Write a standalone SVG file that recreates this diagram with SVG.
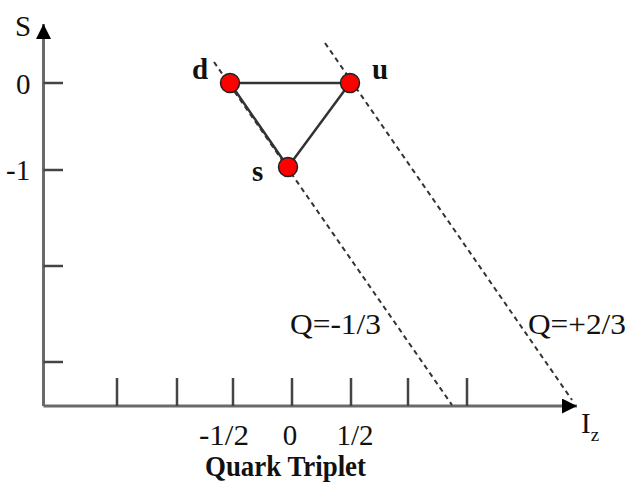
<svg xmlns="http://www.w3.org/2000/svg" width="641" height="484" viewBox="0 0 641 484">
<style>
.axis{stroke:#6a6a6a;stroke-width:3;fill:none}
.tick{stroke:#444;stroke-width:2.5;fill:none}
.edge{stroke:#333;stroke-width:2.5;fill:none}
.dash{stroke:#333;stroke-width:2;stroke-dasharray:5 4;fill:none}
.dot{fill:#ff0000;stroke:#222;stroke-width:1.5}
.t{font-family:"Liberation Serif","Times New Roman",serif;font-size:29px;fill:#111}
.b{font-weight:bold}
</style>
<defs>
<marker id="arr" markerWidth="16" markerHeight="16" refX="15" refY="7.5" orient="auto" markerUnits="userSpaceOnUse">
<path d="M0,0 L15,7.5 L0,15 Z" fill="#000"/>
</marker>
</defs>
<g id="axes">
<path class="axis" d="M43.5,406 L43.5,24" marker-end="url(#arr)"/>
<path class="axis" d="M43.5,406 L577,406" marker-end="url(#arr)"/>
<path class="tick" d="M43.5,83 H63 M43.5,170 H63 M43.5,266 H63 M43.5,362 H63"/>
<path class="tick" d="M117,378 V406 M177,378 V406 M233,378 V406 M292,378 V406 M351,378 V406 M408,378 V406 M467,378 V406"/>
<text class="t" x="15" y="36">S</text>
<text class="t" x="16" y="94">0</text>
<text class="t" x="6" y="180">-1</text>
<text class="t" x="224" y="445" text-anchor="middle" textLength="50" lengthAdjust="spacingAndGlyphs">-1/2</text>
<text class="t" x="290" y="445" text-anchor="middle">0</text>
<text class="t" x="355" y="445" text-anchor="middle" textLength="37" lengthAdjust="spacingAndGlyphs">1/2</text>
<text class="t b" x="205" y="476" font-size="25" textLength="161" lengthAdjust="spacingAndGlyphs">Quark Triplet</text>
<text class="t" x="581" y="433">I<tspan font-size="19" dy="8">z</tspan></text>
</g>
<g id="connectors">
<path class="dash" d="M214,62 L452,405"/>
<path class="dash" d="M325,43 L572,400"/>
<path class="edge" d="M230,83 L350,83 M230,83 L288,167 M350,83 L288,167"/>
<text class="t" x="290" y="334" textLength="91" lengthAdjust="spacingAndGlyphs">Q=-1/3</text>
<text class="t" x="528" y="334" textLength="98" lengthAdjust="spacingAndGlyphs">Q=+2/3</text>
</g>
<g id="node-d">
<circle class="dot" cx="230" cy="83" r="9.5"/>
<text class="t b" x="192" y="79">d</text>
</g>
<g id="node-u">
<circle class="dot" cx="350" cy="83" r="9.5"/>
<text class="t b" x="372" y="79">u</text>
</g>
<g id="node-s">
<circle class="dot" cx="288" cy="167" r="9.5"/>
<text class="t b" x="252" y="181">s</text>
</g>
</svg>
